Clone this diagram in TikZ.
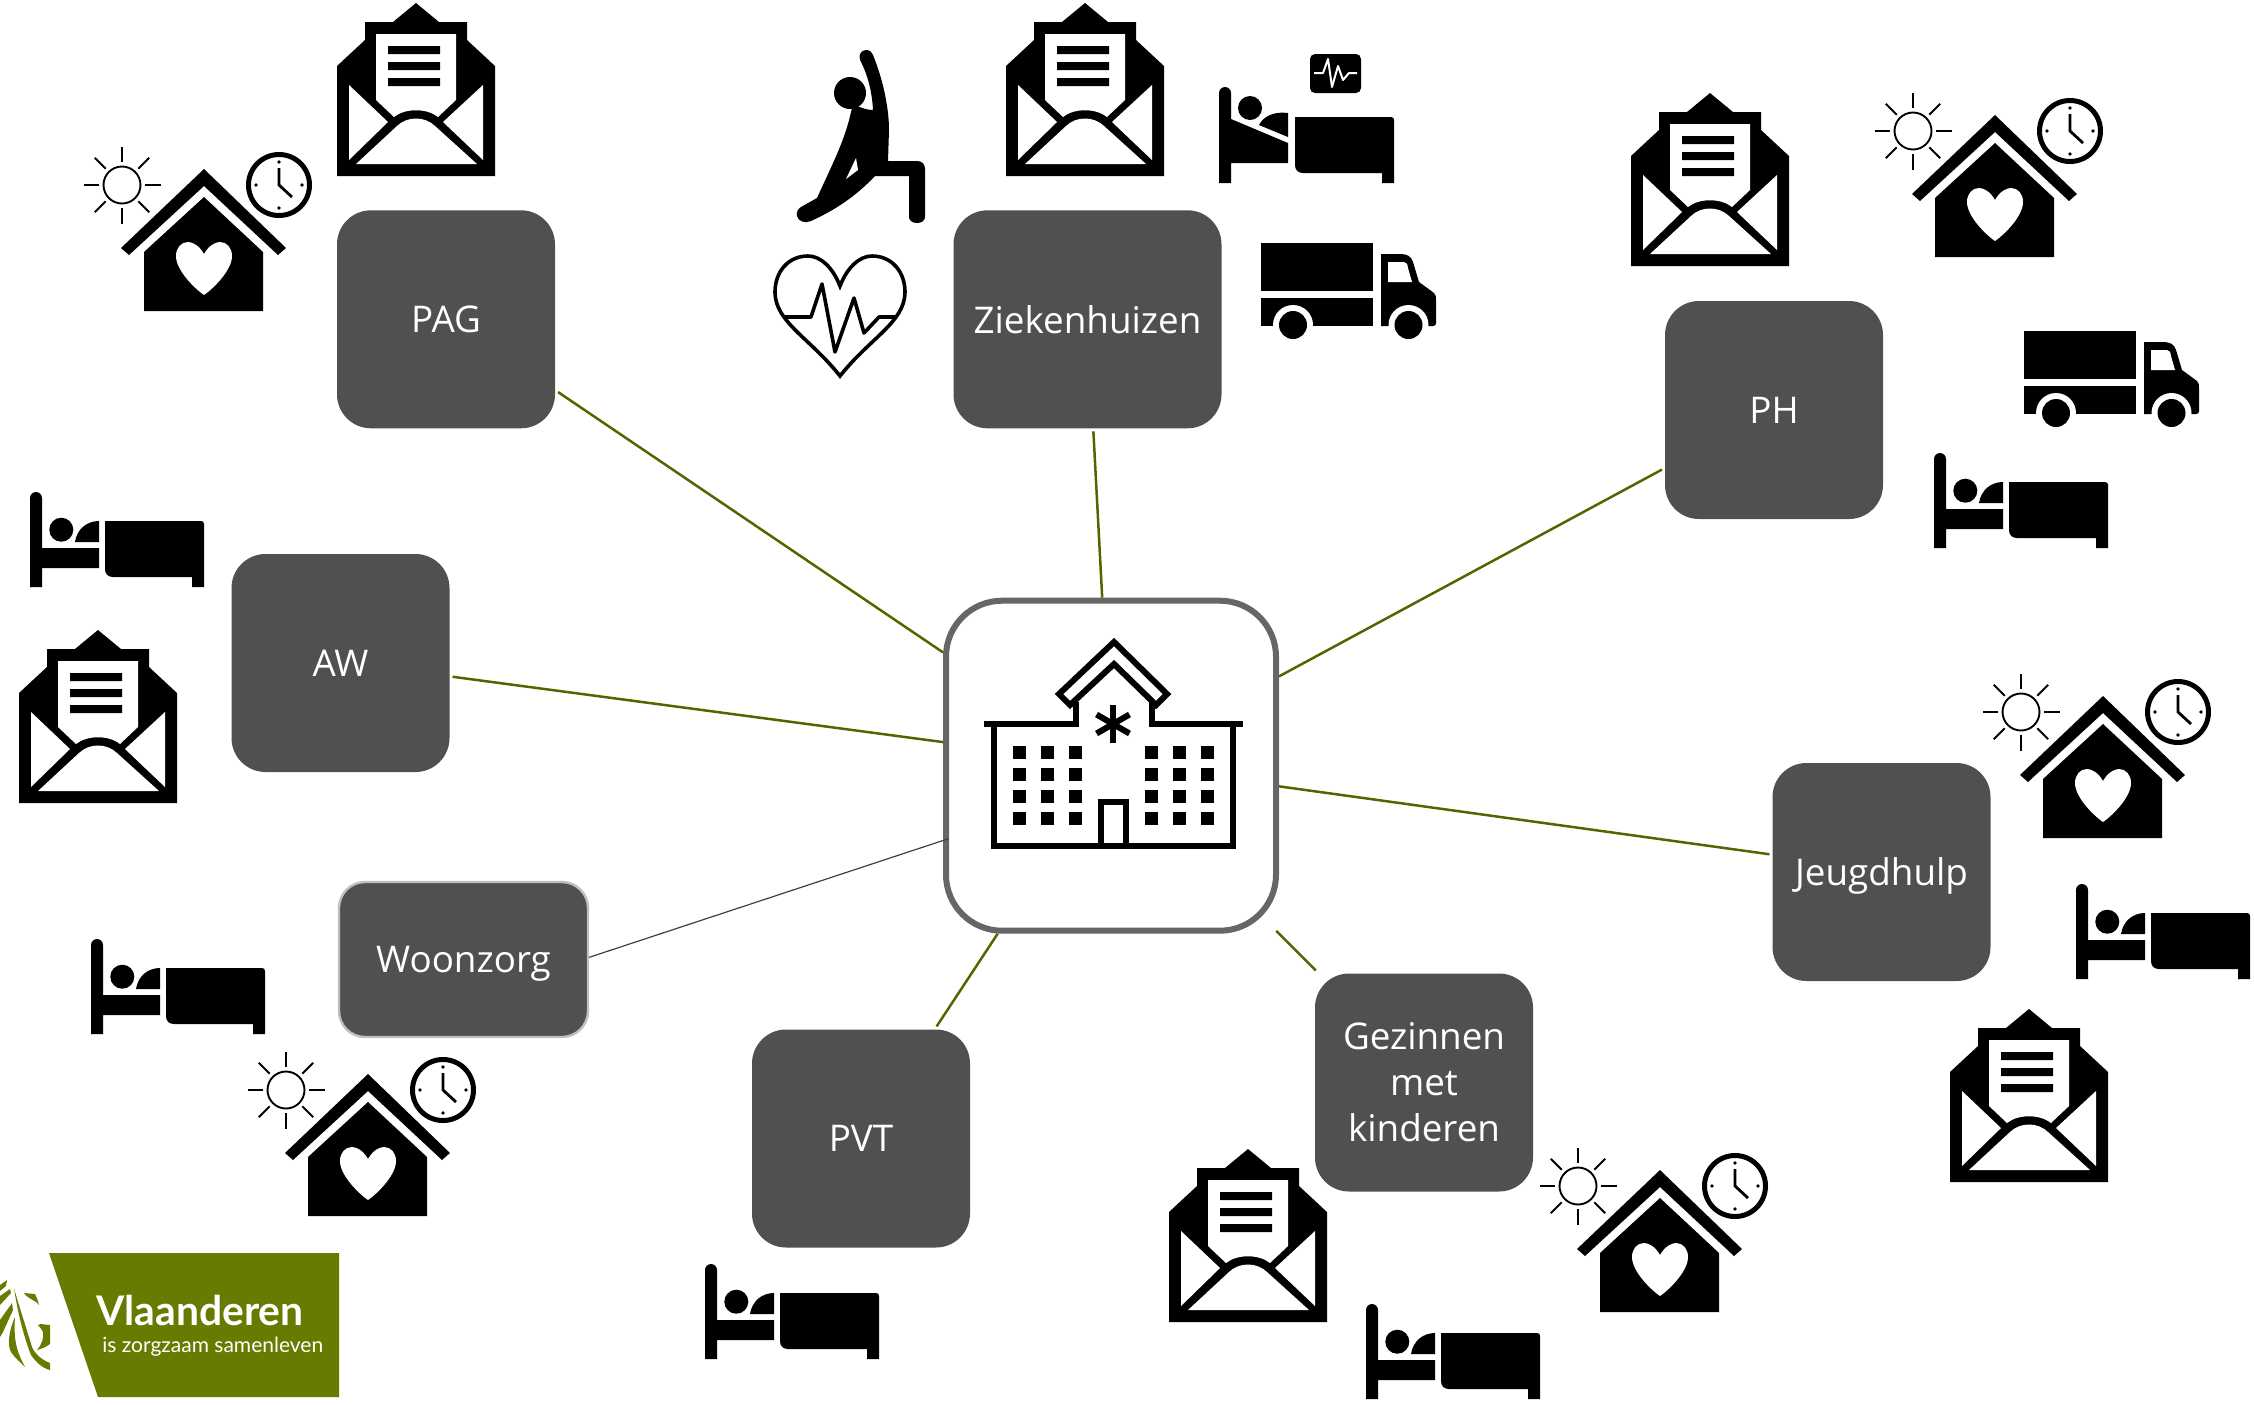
\documentclass[tikz,border=0pt]{standalone}
\usepackage{fontspec}
\setmainfont{Open Sans}
\newfontfamily\logofont{Lato}
\definecolor{boxgray}{HTML}{505050}
\definecolor{linkgreen}{HTML}{546500}
\definecolor{logogreen}{HTML}{667C00}
\definecolor{hubgray}{HTML}{666666}
\tikzset{
  x=0.5pt,y=-0.5pt,
  catbox/.style={draw=none,fill=boxgray,text=white,rectangle,rounded corners=17pt,minimum width=109pt,minimum height=109pt,inner sep=0pt,outer sep=1.5pt,align=center,font=\fontsize{18.4}{23}\selectfont},
  hubbox/.style={draw=hubgray,fill=white,line width=3pt,rectangle,rounded corners=28pt,minimum width=165pt,minimum height=165pt,inner sep=0pt},
  link/.style={draw=linkgreen,line width=1.25pt},
  thinlink/.style={draw=black!75,line width=0.6pt},
  bldg/.style={draw=black,line width=3pt,miter limit=10},
  envelope/.pic={
    \fill[black] (0,173)--(0,63)--(28,37)--(28,19)--(56,19)--(79,0)--(102,19)--(130,19)--(130,37)--(158,63)--(158,173)--cycle;
    \fill[white] (39,31)--(119,31)--(119,97)--(101,114) .. controls (90,105) and (68,105) .. (57,114)--(39,97)--cycle;
    \fill[black] (51,43) rectangle (103,51) (51,59) rectangle (103,67) (51,75) rectangle (103,83);
    \fill[white] (12,82)--(51,119)--(12,157)--cycle;
    \fill[white] (146,82)--(106,119)--(146,157)--cycle;
    \fill[white] (19,161)--(60,123) .. controls (70,113) and (88,113) .. (98,123)--(140,161)--cycle;
  },
  carehome/.pic={
    \draw[line width=0.95pt] (38,39) circle[radius=18.5];
    \foreach \a in {0,45,...,315}{
      \draw[line width=1pt] ({38+23*cos(\a)},{39+23*sin(\a)}) -- ({38+38.5*cos(\a)},{39+38.5*sin(\a)});
    }
    \draw[line width=2.5pt] (195,39) circle[radius=30.5];
    \draw[line width=1.4pt] (195,22)--(195,39)--(208,51);
    \foreach \dx/\dy in {0/-23,23/0,0/23,-23/0}{\fill (195+\dx,39+\dy) circle[radius=1.8];}
    \fill (120,23)--(202,102)--(194,109)--(120,40)--(45,109)--(37,102)--cycle;
    \fill (120,51)--(179,106)--(179,165)--(60,165)--(60,106)--cycle;
    \fill[white] (120,108) .. controls (115,99) and (108,96) .. (104,96) .. controls (97,96) and (92,102) .. (92,110) .. controls (92,124) and (110,142) .. (120,149) .. controls (130,142) and (148,124) .. (148,110) .. controls (148,102) and (143,96) .. (136,96) .. controls (132,96) and (125,99) .. (120,108)--cycle;
  },
  bedicon/.pic={
    \fill (0,95)--(0,6) .. controls (0,2.7) and (2.7,0) .. (6,0) .. controls (9.3,0) and (12,2.7) .. (12,6)--(12,56)--(69,56)--(69,76)--(12,76)--(12,95)--cycle;
    \fill (31.3,37.7) circle[radius=12];
    \fill (45,50)--(69,50)--(69,29) .. controls (57,29) and (47,37) .. (45,50)--cycle;
    \fill (75,29)--(171,29) .. controls (173,29) and (174,30) .. (174,32)--(174,95)--(162,95)--(162,85)--(83,85) .. controls (78,85) and (75,82) .. (75,77)--cycle;
  },
  truckicon/.pic={
    \fill (0,0) rectangle (112,48);
    \fill (0,55) rectangle (112,83);
    \fill (120,83)--(120,11)--(139,11) .. controls (146,11) and (150,13) .. (152,19)--(158,39)--(173,50) .. controls (175,52) and (175,54) .. (175,57)--(175,80) .. controls (175,82) and (174,83) .. (172,83)--cycle;
    \fill[white] (127,19)--(143,19) .. controls (146,19) and (147,22) .. (147,25)--(151,39)--(127,39)--cycle;
    \fill[white] (32,82) circle[radius=20] (147.5,82) circle[radius=20];
    \fill[white] (0,84) rectangle (176,100);
    \fill (32,82) circle[radius=14] (147.5,82) circle[radius=14];
  }
}
\begin{document}
\begin{tikzpicture}
\useasboundingbox (0,0) rectangle (2254,1404);
% boxes
\node[catbox] (pag) at (446,319.3) {PAG};
\node[catbox,minimum width=134pt] (zh) at (1087.5,319.3) {Ziekenhuizen};
\node[catbox] (ph) at (1774,410) {PH};
\node[catbox] (aw) at (340.5,663) {AW};
\node[catbox,minimum width=124.5pt,minimum height=77.5pt,rounded corners=13pt,draw=black!25,line width=1.2pt,outer sep=0.6pt,text depth=0pt] (wz) at (463.5,959.5) {Woonzorg};
\node[catbox] (pvt) at (861,1138.5) {PVT};
\node[catbox] (gz) at (1424,1082.5) {Gezinnen\\met\\kinderen};
\node[catbox,text depth=0pt] (jh) at (1881.5,872) {Jeugdhulp};
\node[hubbox] (hub) at (1111,765.7) {};
% connectors
\draw[link] (pag.-33.4) -- (hub.146.3);
\draw[link] (zh.-87.6) -- (hub.93.4);
\draw[link] (ph.208.4) -- (hub.28.1);
\draw[link] (aw.-7.8) -- (hub.172.1);
\draw[thinlink,shorten >=-3pt] (wz.1.8) -- (hub.204.7);
\draw[link] (pvt.56.2) -- (hub.236);
\draw[link,shorten >=-2pt] (gz.134.5) -- (hub.-45.3);
\draw[link] (jh.171.6) -- (hub.-7.9);
% hospital
\draw[bldg] (984,724)--(1076,724)--(1076,702);
\draw[bldg] (1243,724)--(1152,724)--(1152,702);
\draw[bldg] (994,724)--(994,846)--(1233,846)--(1233,724);
\draw[bldg] (1114,642)--(1059,694)--(1070,705)--(1114,664)--(1156,705)--(1167,694)--cycle;
\draw[bldg] (1101,846)--(1101,802)--(1126,802)--(1126,846);
\foreach \a in {90,150,210,270,330,30}{\draw[line width=3pt] (1113,724)--++({19*cos(\a)},{19*sin(\a)});}
\foreach \px in {1013,1041,1069,1145,1173,1201}{\foreach \py in {746,768,790,812}{\fill (\px,\py) rectangle ++(13,13);}}
% envelopes
\pic at (337,3) {envelope};
\pic at (1006,3) {envelope};
\pic at (1631,93) {envelope};
\pic at (19,630) {envelope};
\pic at (1950,1009) {envelope};
\pic at (1169,1149) {envelope};
% care homes
\pic at (84,146) {carehome};
\pic at (1875,92) {carehome};
\pic at (1983,673) {carehome};
\pic at (248,1051) {carehome};
\pic at (1540,1147) {carehome};
% beds
\pic at (30,492) {bedicon};
\pic at (1934,453) {bedicon};
\pic at (2076,884) {bedicon};
\pic at (91,939) {bedicon};
\pic at (705,1264) {bedicon};
\pic at (1366,1304) {bedicon};
% trucks
\pic at (1261,243) {truckicon};
\pic at (2024,331) {truckicon};
% patient bed with monitor
\begin{scope}[shift={(1219,87)}]
\fill (0,96)--(0,6) .. controls (0,2.7) and (2.7,0) .. (6,0) .. controls (9.3,0) and (12,2.7) .. (12,6)--(12,32)--(69,56)--(69,76)--(12,76)--(12,96)--cycle;
\fill (31,21) circle[radius=12];
\fill (40,38) .. controls (44,30) and (54,24) .. (69,26)--(69,50)--cycle;
\fill (76,30)--(172,30) .. controls (174,30) and (175,31) .. (175,33)--(175,96)--(163,96)--(163,86)--(84,86) .. controls (79,86) and (76,83) .. (76,78)--cycle;
\fill[rounded corners=2.5pt] (91,-33) rectangle (142,6);
\draw[white,line width=1pt,line join=round] (95,-14)--(104,-14)--(109,-28)--(113,0)--(119,-21)--(124,-7)--(130,-14)--(138,-14);
\end{scope}
% stretching figure
\fill (850,93) circle[radius=16];
\fill (860,60) .. controls (858,54) and (862,50) .. (866,50) .. controls (870,50) and (872,52) .. (873,55) .. controls (884,82) and (889,110) .. (889,130)--(888,161)--(917,161) .. controls (922,161) and (925,164) .. (925,169)--(925,217) .. controls (925,221) and (921,223) .. (917,223) .. controls (913,223) and (909,221) .. (909,217)--(909,176)--(875,176) .. controls (855,197) and (835,210) .. (811,221) .. controls (805,224) and (798,221) .. (797,216) .. controls (796,212) and (798,209) .. (801,207)--(817,198) .. controls (832,165) and (845,140) .. (851,112) .. controls (853,100) and (860,110) .. (873,110) .. controls (872,92) and (868,75) .. (860,60)--cycle;
\fill[white] (856,158)--(858,170)--(846,179)--cycle;
% heart
\draw[line width=1.8pt,miter limit=10] (840,286) .. controls (833,268) and (821,256) .. (808,256) .. controls (788,256) and (775,272) .. (775,292) .. controls (775,322) and (810,338) .. (840,376) .. controls (870,338) and (905,322) .. (905,292) .. controls (905,272) and (892,256) .. (872,256) .. controls (859,256) and (847,268) .. (840,286)--cycle;
\draw[line width=1.8pt,line join=round] (785,317)--(811,317)--(822,284)--(835,352)--(854,298)--(864,333)--(879,317)--(896,317);
% logo
\fill[logogreen] (49,1253)--(339,1253)--(339,1397)--(98,1397)--cycle;
\node[anchor=base west,inner sep=0pt,text=white,font=\logofont\bfseries\fontsize{20.4}{21}\selectfont] (logoa) at (96,1325) {Vlaanderen};
\node[anchor=base west,inner sep=0pt,text=white,font=\logofont\fontsize{10.5}{12}\selectfont] (logob) at (102,1352) {is zorgzaam samenleven};
\fill[logogreen] (24,1293)--(35,1294) .. controls (37,1298) and (38,1301) .. (39,1305) .. controls (36,1300) and (29,1300) .. (24,1293)--cycle;
\fill[logogreen] (14,1288) .. controls (18,1303) and (27,1330) .. (32,1347) .. controls (35,1354) and (42,1360) .. (50,1363)--(50,1370) .. controls (42,1368) and (36,1362) .. (31,1355) .. controls (25,1340) and (18,1315) .. (14,1288)--cycle;
\fill[logogreen] (38,1325) .. controls (41,1323) and (45,1325) .. (50,1325)--(50,1344) .. controls (46,1347) and (41,1349) .. (37,1350) .. controls (42,1344) and (44,1338) .. (43,1332) .. controls (42,1329) and (40,1328) .. (38,1325)--cycle;
\fill[logogreen] (0,1285)--(7,1280)--(6,1286)--(0,1291)--cycle;
\fill[logogreen] (0,1296)--(10,1289)--(11,1293)--(0,1305)--cycle;
\fill[logogreen] (0,1320)--(12,1303)--(13,1310)--(3,1332)--(0,1337)--cycle;
\fill[logogreen] (15,1317) .. controls (9,1330) and (7,1345) .. (11,1352) .. controls (15,1358) and (20,1362) .. (25,1367) .. controls (19,1355) and (13,1345) .. (15,1317)--cycle;
\end{tikzpicture}
\end{document}
